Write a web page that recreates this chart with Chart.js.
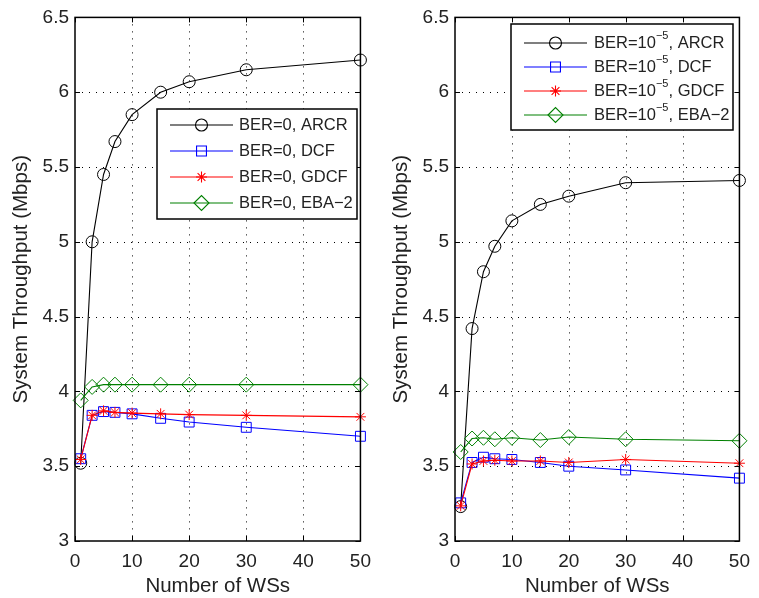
<!DOCTYPE html>
<html>
<head>
<meta charset="utf-8">
<script src="https://cdn.jsdelivr.net/npm/chart.js@4/dist/chart.umd.min.js"></script>
<style>
  body { margin: 0; background: #fff; }
  #wrap { position: relative; width: 759px; height: 598px; }
  canvas { position: absolute; top: 0; }
</style>
</head>
<body>
<div id="wrap">
  <canvas id="leftChart" width="380" height="598" style="left:0"></canvas>
  <canvas id="rightChart" width="379" height="598" style="left:380px"></canvas>
</div>
<script>
// x values (number of WSs) shared by every curve
const wsCounts = [1, 3, 5, 7, 10, 15, 20, 30, 50];

// BER = 0 (left panel)
const arcrBer0 = [3.52, 5.00, 5.45, 5.67, 5.85, 6.00, 6.07, 6.15, 6.215];
const dcfBer0  = [3.55, 3.84, 3.865, 3.86, 3.85, 3.82, 3.795, 3.76, 3.70];
const gdcfBer0 = [3.545, 3.84, 3.87, 3.86, 3.855, 3.85, 3.845, 3.84, 3.83];
const eba2Ber0 = [3.94, 4.03, 4.045, 4.045, 4.045, 4.045, 4.045, 4.045, 4.045];

// BER = 10^-5 (right panel)
const arcrBer5 = [3.23, 4.42, 4.80, 4.97, 5.14, 5.25, 5.305, 5.395, 5.41];
const dcfBer5  = [3.255, 3.525, 3.56, 3.55, 3.545, 3.525, 3.50, 3.475, 3.42];
const gdcfBer5 = [3.235, 3.515, 3.535, 3.54, 3.535, 3.535, 3.525, 3.545, 3.52];
const eba2Ber5 = [3.595, 3.685, 3.69, 3.68, 3.69, 3.675, 3.695, 3.68, 3.67];

const seriesNames = ['ARCR', 'DCF', 'GDCF', 'EBA\u22122'];
const leftPrefix = 'BER=0, ';
const rightPrefix = 'BER=10^{\u22125}, ';

const xTicks = [0, 10, 20, 30, 40, 50];
const xTickLabels = ['0', '10', '20', '30', '40', '50'];
const yTicks = [3, 3.5, 4, 4.5, 5, 5.5, 6, 6.5];
const yTickLabels = ['3', '3.5', '4', '4.5', '5', '5.5', '6', '6.5'];

const FONT = '"Liberation Sans", Arial, Helvetica, sans-serif';
const TEXT = '#222';

// line colour, marker and marker size per series
const styles = [
  { color: '#000000', point: 'circle', radius: 6 },
  { color: '#0000ff', point: 'rect', radius: 7 },
  { color: '#ff0000', point: 'star', radius: 5.5 },
  { color: '#008000', point: 'rectRot', radius: 7.5 }
];

function makeDatasets(prefix, values) {
  return values.map((vals, i) => ({
    label: prefix + seriesNames[i],
    data: wsCounts.map((w, k) => ({ x: w, y: vals[k] })),
    borderColor: styles[i].color,
    borderWidth: 1.1,
    pointStyle: styles[i].point,
    pointRadius: styles[i].radius,
    pointBorderWidth: 1,
    pointBorderColor: styles[i].color,
    pointBackgroundColor: 'rgba(0,0,0,0)',
    tension: 0,
    clip: false,
    order: 3 - i
  }));
}

function drawRichText(ctx, text, x, y) {
  const parts = text.split(/\^\{([^}]*)\}/);
  ctx.textBaseline = 'middle';
  ctx.textAlign = 'left';
  ctx.fillStyle = TEXT;
  let cx = x;
  parts.forEach((p, k) => {
    if (!p) return;
    const sup = k % 2 === 1;
    ctx.font = (sup ? '11px ' : '16.5px ') + FONT;
    ctx.fillText(p, cx, sup ? y - 7 : y);
    cx += ctx.measureText(p).width;
  });
}

// MATLAB-like axes: dotted grid, boxed frame, inward ticks, boxed legend
const matlabAxes = {
  id: 'matlabAxes',
  beforeDatasetsDraw(chart) {
    const { ctx, chartArea: a, scales: { x, y } } = chart;
    ctx.save();
    ctx.strokeStyle = '#000';
    ctx.lineWidth = 1;
    ctx.setLineDash([1, 6]);
    ctx.beginPath();
    xTicks.forEach(v => {
      if (v <= x.min || v >= x.max) return;
      const px = Math.round(x.getPixelForValue(v)) + 0.5;
      ctx.moveTo(px, a.top); ctx.lineTo(px, a.bottom);
    });
    yTicks.forEach(v => {
      if (v <= y.min || v >= y.max) return;
      const py = Math.round(y.getPixelForValue(v)) + 0.5;
      ctx.moveTo(a.left, py); ctx.lineTo(a.right, py);
    });
    ctx.stroke();
    ctx.restore();
  },
  afterDatasetsDraw(chart, args, opts) {
    const { ctx, chartArea: a, scales: { x, y } } = chart;
    ctx.save();
    ctx.strokeStyle = '#000';
    ctx.lineWidth = 1;
    ctx.beginPath();
    xTicks.forEach(v => {
      const px = Math.round(x.getPixelForValue(v)) + 0.5;
      ctx.moveTo(px, a.bottom); ctx.lineTo(px, a.bottom - 5);
      ctx.moveTo(px, a.top); ctx.lineTo(px, a.top + 5);
    });
    yTicks.forEach(v => {
      const py = Math.round(y.getPixelForValue(v)) + 0.5;
      ctx.moveTo(a.left, py); ctx.lineTo(a.left + 5, py);
      ctx.moveTo(a.right, py); ctx.lineTo(a.right - 5, py);
    });
    ctx.stroke();
    ctx.lineWidth = 1.5;
    ctx.strokeRect(a.left, a.top, a.right - a.left, a.bottom - a.top);

    // legend
    const L = opts.legend;
    ctx.fillStyle = '#fff';
    ctx.fillRect(L.x, L.y, L.w, L.h);
    ctx.lineWidth = 1.5;
    ctx.strokeStyle = '#000';
    ctx.strokeRect(L.x, L.y, L.w, L.h);
    chart.data.datasets.forEach((ds, i) => {
      const cy = L.y + L.firstRow + i * L.rowGap;
      ctx.strokeStyle = ds.borderColor;
      ctx.lineWidth = ds.borderWidth;
      ctx.beginPath();
      ctx.moveTo(L.x + L.line0, cy);
      ctx.lineTo(L.x + L.line1, cy);
      ctx.stroke();
      ctx.fillStyle = 'rgba(0,0,0,0)';
      Chart.helpers.drawPoint(ctx, {
        pointStyle: ds.pointStyle, radius: ds.pointRadius, rotation: 0, borderWidth: 1
      }, L.x + (L.line0 + L.line1) / 2, cy);
      drawRichText(ctx, ds.label, L.x + L.textX, cy);
    });
    ctx.restore();
  }
};

function makeChart(id, prefix, values, legend) {
  return new Chart(document.getElementById(id), {
    type: 'line',
    data: { datasets: makeDatasets(prefix, values) },
    plugins: [matlabAxes],
    options: {
      responsive: false,
      animation: false,
      events: [],
      layout: { padding: { top: 15, right: 16, bottom: 0, left: 0 } },
      plugins: {
        legend: { display: false },
        tooltip: { enabled: false },
        matlabAxes: { legend }
      },
      scales: {
        x: {
          type: 'linear', min: 0, max: 50,
          afterBuildTicks: s => { s.ticks = xTicks.map(v => ({ value: v })); },
          afterFit: s => { s.height = 57; },
          ticks: {
            callback: (v, i) => xTickLabels[i],
            font: { family: FONT, size: 19 }, color: TEXT, padding: 9,
            maxRotation: 0, autoSkip: false
          },
          grid: { display: false, drawTicks: false, tickLength: 0 },
          border: { display: false },
          title: {
            display: true, text: 'Number of WSs',
            font: { family: FONT, size: 20.5, lineHeight: 1 }, color: TEXT,
            padding: { top: 0, bottom: 1 }
          }
        },
        y: {
          type: 'linear', min: 3, max: 6.5,
          afterBuildTicks: s => { s.ticks = yTicks.map(v => ({ value: v })); },
          afterFit: s => { s.width = 75; },
          ticks: {
            callback: (v, i) => yTickLabels[i],
            font: { family: FONT, size: 19 }, color: TEXT, padding: 6,
            autoSkip: false
          },
          grid: { display: false, drawTicks: false, tickLength: 0 },
          border: { display: false },
          title: {
            display: true, text: 'System Throughput (Mbps)',
            font: { family: FONT, size: 20.5 }, color: TEXT,
            padding: { top: 9, bottom: 0 }
          }
        }
      }
    }
  });
}

makeChart('leftChart', leftPrefix, [arcrBer0, dcfBer0, gdcfBer0, eba2Ber0],
  { x: 157, y: 109, w: 200, h: 110, firstRow: 16, rowGap: 26, line0: 13, line1: 76, textX: 82 });
makeChart('rightChart', rightPrefix, [arcrBer5, dcfBer5, gdcfBer5, eba2Ber5],
  { x: 131, y: 24, w: 222, h: 106, firstRow: 19, rowGap: 24, line0: 13, line1: 76, textX: 83 });
</script>
</body>
</html>
